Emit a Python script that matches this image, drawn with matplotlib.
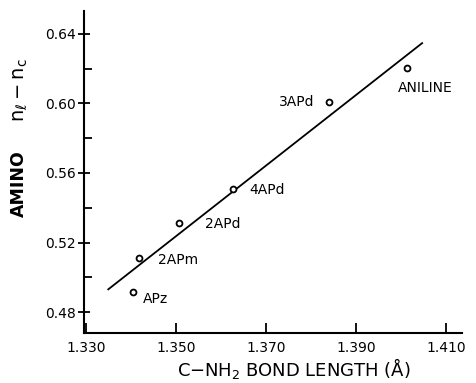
import numpy as np
import matplotlib
matplotlib.use('Agg')
from matplotlib import pyplot as plt
from matplotlib.ticker import MultipleLocator

# values
names = ['APz', '2APm', '2APd', '4APd', '3APd', 'ANILINE']
bond_len = [1.3405, 1.3418, 1.3507, 1.3626, 1.3841, 1.4014]
amino_diff = [0.4913, 0.5109, 0.5310, 0.5506, 0.6010, 0.6203]
fit_x = [1.3350, 1.4047]
fit_y = [0.4931, 0.6346]
xticks = [1.330, 1.350, 1.370, 1.390, 1.410]
yticks = [0.48, 0.52, 0.56, 0.60, 0.64]

# label offsets in pixels from the point
label_off = {'APz': (10, -7, 'left', 'center'),
             '2APm': (19, -2, 'left', 'center'),
             '2APd': (26, -1, 'left', 'center'),
             '4APd': (17, -1, 'left', 'center'),
             '3APd': (-15, 0, 'right', 'center'),
             'ANILINE': (-9, -20, 'left', 'center')}

plt.rcParams['mathtext.fontset'] = 'dejavusans'
fig = plt.figure(figsize=(4.77, 3.83), dpi=100)
ax = fig.add_axes([0.176, 0.1305, 0.793, 0.8405])

ax.plot(fit_x, fit_y, color='black', lw=1.3)
ax.scatter(bond_len, amino_diff, s=18, facecolors='white', edgecolors='black', linewidths=1.3, zorder=3)
for n, x, y in zip(names, bond_len, amino_diff):
    dx, dy, ha, va = label_off[n]
    ax.annotate(n, (x, y), xytext=(dx, dy), textcoords='offset pixels',
                ha=ha, va=va, fontsize=10)

ax.set_xlim(1.3296, 1.4136)
ax.set_ylim(0.468, 0.653)
ax.set_xticks(xticks)
ax.set_xticklabels(['%.3f' % t for t in xticks])
ax.set_yticks(yticks)
ax.set_yticklabels(['%.2f' % t for t in yticks])
ax.yaxis.set_minor_locator(MultipleLocator(0.02))

for s in ['top', 'right']:
    ax.spines[s].set_visible(False)
for s in ['left', 'bottom']:
    ax.spines[s].set_linewidth(1.5)
ax.tick_params(axis='x', direction='in', length=7, width=1.3, labelsize=10, pad=6)
ax.tick_params(axis='y', which='major', direction='inout', length=8, width=1.3, labelsize=10, pad=2)
ax.tick_params(axis='y', which='minor', direction='in', length=6, width=1.3)

ax.set_xlabel('C$-$NH$_2$ BOND LENGTH (Å)', fontsize=13)
ax.xaxis.set_label_coords(0.555, -0.07)

# y label in two parts, as in the original
fig.text(0.040, 1 - 184 / 383, 'AMINO', rotation=90, ha='center', va='center',
         fontsize=12.5, fontweight='bold')
fig.text(0.044, 1 - 90 / 383, r'$\mathregular{n_{\ell} - n_c}$', rotation=90,
         ha='center', va='center', fontsize=14)

plt.savefig('out.png', dpi=100)
plt.close()
